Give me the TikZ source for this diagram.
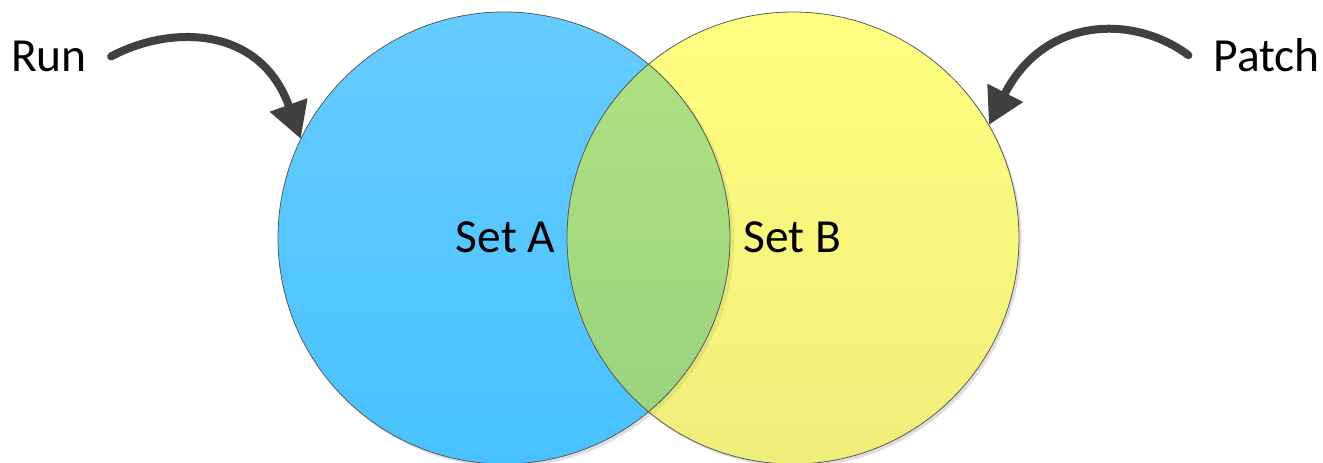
\documentclass[tikz,border=0pt]{standalone}
\usepackage{fontspec}
\setmainfont{Carlito}
\usetikzlibrary{arrows.meta}
\definecolor{blueT}{RGB}{102,204,255}
\definecolor{blueB}{RGB}{72,194,255}
\definecolor{yelT}{RGB}{255,255,128}
\definecolor{yelB}{RGB}{240,238,122}
\definecolor{grnT}{RGB}{178,226,128}
\definecolor{grnB}{RGB}{150,210,127}
\definecolor{arrowgray}{RGB}{64,64,64}
\definecolor{edgegray}{RGB}{90,90,90}
\begin{document}
\begin{tikzpicture}[x=1pt,y=-1pt,
  setcircle/.style={circle, minimum size=452pt, inner sep=0pt},
  outline/.style={draw=edgegray, line width=0.8pt},
  shadowfill/.style={fill=black, fill opacity=0.13},
  lbl/.style={font=\fontsize{47.5}{56}\selectfont, inner sep=0pt, text=black},
  bigarrow/.style={draw=arrowgray, line width=8pt, line cap=round,
    -{Triangle[length=36pt,width=38pt]}}]
\useasboundingbox (0,0) rectangle (1323,463);
\coordinate (cA) at (504,238);
\coordinate (cB) at (793,238);
% shadows
\fill[shadowfill] ([xshift=2.5pt,yshift=-3pt]cA) circle[radius=226pt];
\fill[shadowfill] ([xshift=2.5pt,yshift=-3pt]cB) circle[radius=226pt];
% circles
\node[setcircle, top color=blueT, bottom color=blueB] (A) at (cA) {};
\node[setcircle, top color=yelT, bottom color=yelB] (B) at (cB) {};
% shadow of A falling on B
\begin{scope}
  \clip (cB) circle[radius=226pt];
  \fill[shadowfill, fill opacity=0.06] ([xshift=4pt,yshift=-3pt]cA) circle[radius=226pt];
\end{scope}
% intersection
\begin{scope}
  \clip (cA) circle[radius=226pt];
  \fill[top color=grnT, bottom color=grnB] (cB) circle[radius=226pt];
\end{scope}
% outlines
\draw[outline] (cA) circle[radius=226pt];
\draw[outline] (cB) circle[radius=226pt];
% labels
\node[lbl] (la) at (505.5,237) {Set A};
\node[lbl] (lb) at (792.5,237) {Set B};
\node[lbl, anchor=base west] (run) at (11,71.5) {Run};
\node[lbl, anchor=base east] (patch) at (1320,71.5) {Patch};
% arrows
\draw[bigarrow] ([xshift=24pt]run.east) .. controls (170,25) and (260,25) .. (A.154);
\draw[bigarrow] ([xshift=-25pt]patch.west) .. controls (1135,15) and (1045,15) .. (B.30);
\end{tikzpicture}
\end{document}
